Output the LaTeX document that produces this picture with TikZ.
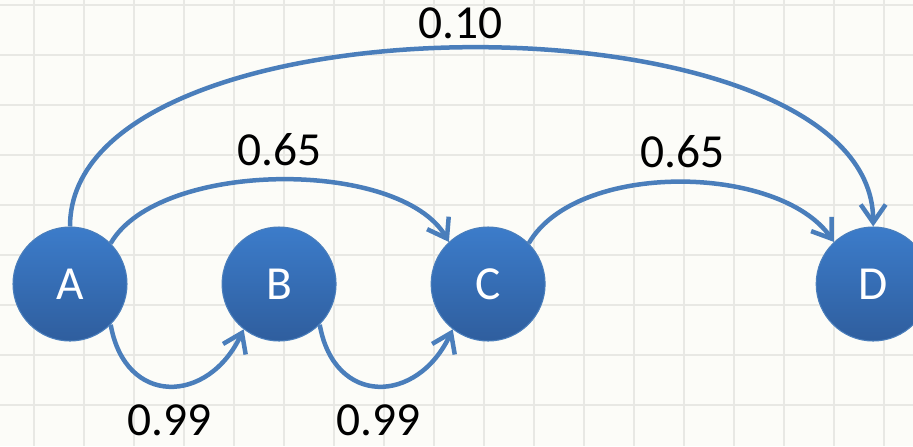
\documentclass[tikz,border=0pt]{standalone}
\usepackage{fontspec}
\setmainfont{Carlito}
\usepackage{tikz}
\usetikzlibrary{arrows.meta, positioning}
\definecolor{linkblue}{RGB}{74,126,187}
\definecolor{nodetop}{RGB}{60,124,202}
\definecolor{nodebot}{RGB}{47,94,158}
\definecolor{paper}{RGB}{252,252,248}
\definecolor{gridgray}{RGB}{232,232,228}
\tikzset{
  state/.style    = {circle, draw=linkblue, line width=0.6pt, top color=nodetop,
                     bottom color=nodebot, minimum size=22.8mm, inner sep=0pt,
                     text=white, font=\fontsize{27}{32}\selectfont},
  trans/.style    = {-{Straight Barb[length=3.6mm, width=5mm]}, draw=linkblue,
                     line width=0.9mm},
  plab/.style     = {font=\fontsize{27}{32}\selectfont, inner sep=0pt},
  gridline/.style = {draw=gridgray, line width=0.3mm},
}

\begin{document}
\begin{tikzpicture}[x=0.2mm, y=-0.2mm, node distance=18.8mm]
  \fill[paper] (0,0) rectangle (913,446);
  \useasboundingbox (0,0) rectangle (913,446);
  \foreach \gx in {34,84,...,884} \draw[gridline] (\gx,0) -- (\gx,446);
  \foreach \gy in {5,55,...,405} \draw[gridline] (0,\gy) -- (913,\gy);
  \node[state] (a) at (70,284) {A};
  \node[state, right=of a] (b) {B};
  \node[state, right=of b] (c) {C};
  \node[state, right=54mm of c] (d) {D};
  \draw[trans] (a.north) to[out=90, in=90, looseness=0.76]
    node[plab, above=1.4mm, xshift=-2.2mm] {0.10} (d.north);
  \draw[trans] (a.45) to[out=60, in=120, looseness=0.73]
    node[plab, above=2.4mm] {0.65} (c.133);
  \draw[trans] (c.45) to[out=60, in=125, looseness=0.8]
    node[plab, above=2.4mm, xshift=0.8mm] {0.65} (d.133);
  \draw[trans] (a.-45) to[out=-80, in=-115, looseness=1.6]
    node[plab, below=3.2mm] {0.99} (b.-128);
  \draw[trans] (b.-45) to[out=-80, in=-115, looseness=1.6]
    node[plab, below=3.2mm] {0.99} (c.-128);
\end{tikzpicture}
\end{document}
